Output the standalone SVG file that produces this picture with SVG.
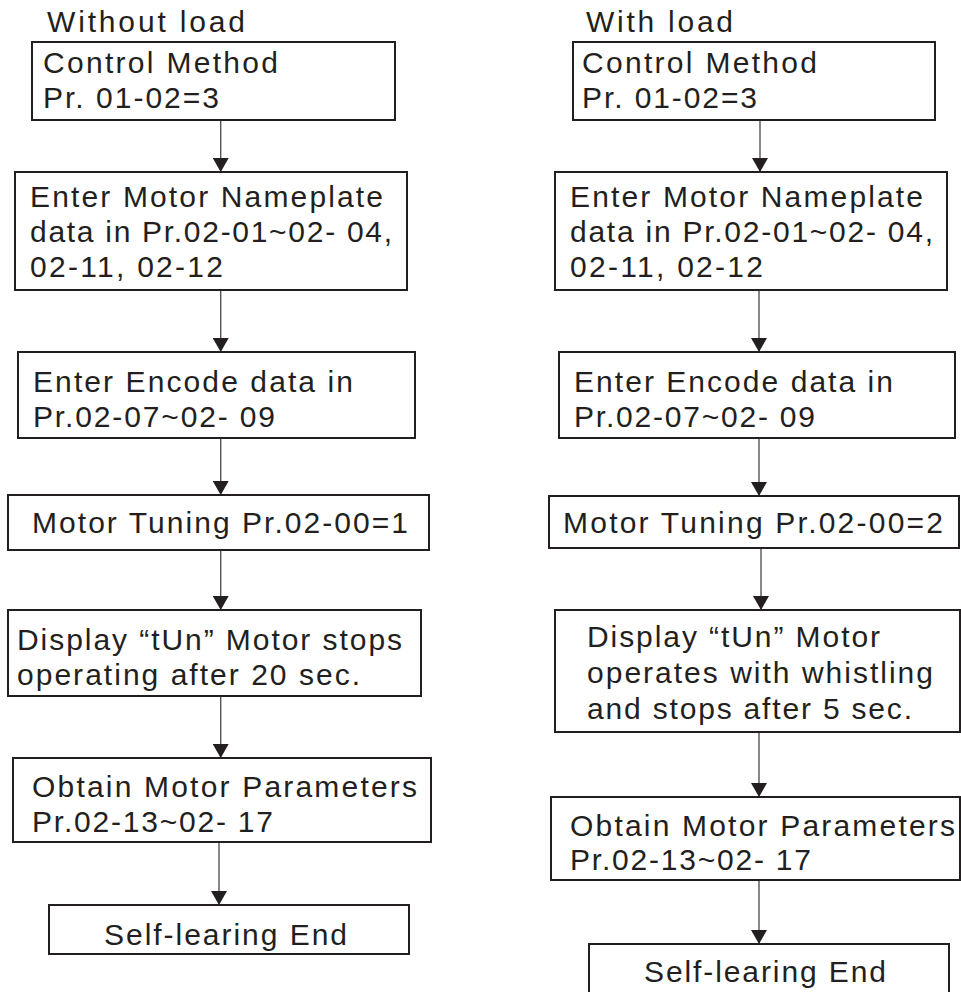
<svg xmlns="http://www.w3.org/2000/svg" width="961" height="992" viewBox="0 0 961 992">
<style>
.box{fill:#fff;stroke:#231f20;stroke-width:2}
.t{font-family:"Liberation Sans",Arial,sans-serif;font-size:30px;fill:#231f20}
.c{stroke:#555;stroke-width:1.4;fill:none;marker-end:url(#ah)}
</style>
<defs>
<marker id="ah" viewBox="0 0 14 16" refX="14" refY="8" markerWidth="14" markerHeight="16" markerUnits="userSpaceOnUse" orient="auto">
<path d="M0,0 L14,8 L0,16 z" fill="#231f20"/>
</marker>
</defs>
<rect width="961" height="992" fill="#fff"/>
<text class="t" x="47" y="32" textLength="198" lengthAdjust="spacing">Without load</text>
<text class="t" x="586" y="32" textLength="147" lengthAdjust="spacing">With load</text>
<g id="connectors">
<line class="c" x1="220.7" y1="120" x2="220.7" y2="172"/>
<line class="c" x1="220.7" y1="290" x2="220.7" y2="352"/>
<line class="c" x1="220.7" y1="436" x2="220.7" y2="495"/>
<line class="c" x1="220.7" y1="550" x2="220.7" y2="610"/>
<line class="c" x1="220.7" y1="696" x2="220.7" y2="758"/>
<line class="c" x1="219" y1="843" x2="219" y2="905"/>
<line class="c" x1="760" y1="120" x2="760" y2="172"/>
<line class="c" x1="759" y1="290" x2="759" y2="352"/>
<line class="c" x1="759" y1="436" x2="759" y2="496"/>
<line class="c" x1="761" y1="548" x2="761" y2="610"/>
<line class="c" x1="759" y1="732" x2="759" y2="797"/>
<line class="c" x1="759" y1="881" x2="759" y2="944"/>
</g>
<g id="L1"><rect class="box" x="32" y="42" width="363" height="78"/>
<text class="t" x="43" y="73" textLength="235" lengthAdjust="spacing">Control Method</text>
<text class="t" x="43" y="108" textLength="176" lengthAdjust="spacing">Pr. 01-02=3</text></g>
<g id="L2"><rect class="box" x="15" y="172" width="392" height="118"/>
<text class="t" x="30" y="207" textLength="353" lengthAdjust="spacing">Enter Motor Nameplate</text>
<text class="t" x="30" y="242" textLength="362" lengthAdjust="spacing">data in Pr.02-01~02- 04,</text>
<text class="t" x="30" y="277" textLength="193" lengthAdjust="spacing">02-11, 02-12</text></g>
<g id="L3"><rect class="box" x="18" y="352" width="397" height="86"/>
<text class="t" x="33" y="392" textLength="320" lengthAdjust="spacing">Enter Encode data in</text>
<text class="t" x="33" y="427" textLength="242" lengthAdjust="spacing">Pr.02-07~02- 09</text></g>
<g id="L4"><rect class="box" x="8" y="495" width="421" height="55"/>
<text class="t" x="32" y="533" textLength="376" lengthAdjust="spacing">Motor Tuning Pr.02-00=1</text></g>
<g id="L5"><rect class="box" x="8" y="610" width="413" height="86"/>
<text class="t" x="17" y="650" textLength="385" lengthAdjust="spacing">Display “tUn” Motor stops</text>
<text class="t" x="17" y="685" textLength="343" lengthAdjust="spacing">operating after 20 sec.</text></g>
<g id="L6"><rect class="box" x="13" y="758" width="418" height="84"/>
<text class="t" x="32" y="797" textLength="385" lengthAdjust="spacing">Obtain Motor Parameters</text>
<text class="t" x="32" y="832" textLength="241" lengthAdjust="spacing">Pr.02-13~02- 17</text></g>
<g id="L7"><rect class="box" x="49" y="905" width="360" height="49"/>
<text class="t" x="104" y="945" textLength="243" lengthAdjust="spacing">Self-learing End</text></g>
<g id="R1"><rect class="box" x="573" y="42" width="362" height="78"/>
<text class="t" x="582" y="73" textLength="235" lengthAdjust="spacing">Control Method</text>
<text class="t" x="582" y="108" textLength="175" lengthAdjust="spacing">Pr. 01-02=3</text></g>
<g id="R2"><rect class="box" x="555" y="172" width="392" height="118"/>
<text class="t" x="570" y="207" textLength="353" lengthAdjust="spacing">Enter Motor Nameplate</text>
<text class="t" x="570" y="242" textLength="363" lengthAdjust="spacing">data in Pr.02-01~02- 04,</text>
<text class="t" x="570" y="277" textLength="193" lengthAdjust="spacing">02-11, 02-12</text></g>
<g id="R3"><rect class="box" x="559" y="352" width="396" height="86"/>
<text class="t" x="574" y="392" textLength="319" lengthAdjust="spacing">Enter Encode data in</text>
<text class="t" x="574" y="427" textLength="241" lengthAdjust="spacing">Pr.02-07~02- 09</text></g>
<g id="R4"><rect class="box" x="549" y="496" width="410" height="52"/>
<text class="t" x="563" y="533" textLength="380" lengthAdjust="spacing">Motor Tuning Pr.02-00=2</text></g>
<g id="R5"><rect class="box" x="555" y="610" width="405" height="122"/>
<text class="t" x="587" y="647" textLength="293" lengthAdjust="spacing">Display “tUn” Motor</text>
<text class="t" x="587" y="683" textLength="346" lengthAdjust="spacing">operates with whistling</text>
<text class="t" x="587" y="719" textLength="325" lengthAdjust="spacing">and stops after 5 sec.</text></g>
<g id="R6"><rect class="box" x="551" y="797" width="409" height="83"/>
<text class="t" x="570" y="836" textLength="385" lengthAdjust="spacing">Obtain Motor Parameters</text>
<text class="t" x="570" y="870" textLength="241" lengthAdjust="spacing">Pr.02-13~02- 17</text></g>
<g id="R7"><rect class="box" x="589" y="944" width="360" height="52"/>
<text class="t" x="644" y="982" textLength="242" lengthAdjust="spacing">Self-learing End</text></g>
</svg>
